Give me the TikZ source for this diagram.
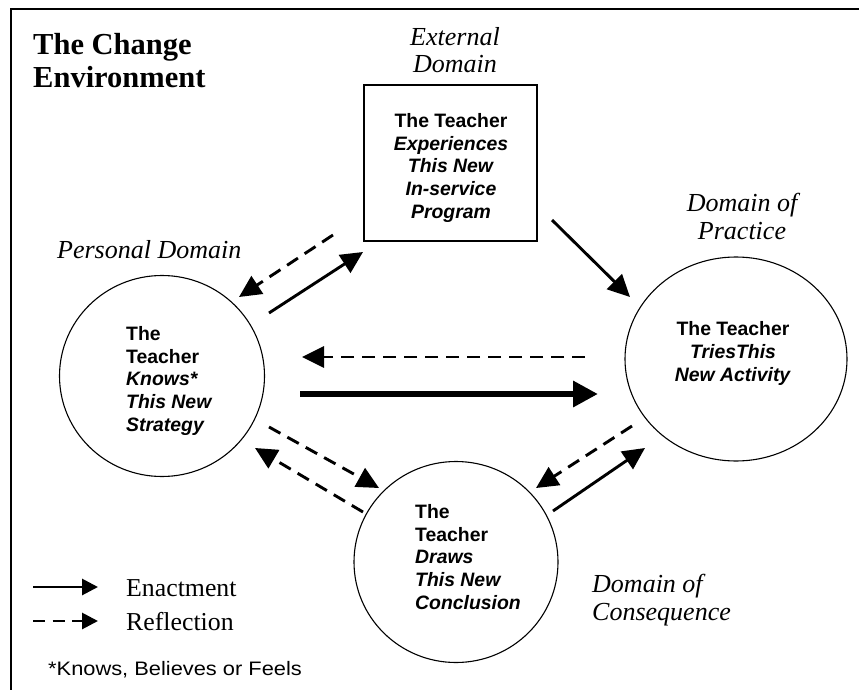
\documentclass[tikz,border=0pt]{standalone}
\usepackage{graphicx}
\usepackage{fontspec}
\setmainfont{Liberation Serif}
\setsansfont{Liberation Sans}
\usetikzlibrary{arrows.meta,shapes.geometric}
\begin{document}
\begin{tikzpicture}[x=1pt,y=-1pt,
  domainshape/.style={draw, line width=1.1pt, ellipse, inner sep=0pt},
  boxnode/.style={draw, line width=1.3pt, rectangle, inner sep=0pt},
  innertext/.style={font=\sffamily\bfseries\fontsize{19.4}{22.6}\selectfont, inner sep=0pt},
  dlabel/.style={font=\itshape\fontsize{26}{27.5}\selectfont, inner sep=0pt},
  enact/.style={line width=2.9pt, -{Triangle[length=22pt,width=21pt]}},
  reflect/.style={enact, dash pattern=on 13pt off 8pt},
  strongarrow/.style={line width=6.5pt, -{Triangle[length=25pt,width=25pt]}},
  legendtext/.style={font=\fontsize{25.8}{28}\selectfont, inner sep=0pt, anchor=base west}
]
\useasboundingbox (0,0) rectangle (859,690);
\fill[white] (0,0) rectangle (859,690);
% frame along the left and top edges
\draw[line width=2.4pt] (11,690) -- (11,9) -- (859,9);

% title (multi-line nodes are placed by the baseline of their last line)
\node[anchor=base west, inner sep=0pt, align=left,
      font=\bfseries\fontsize{30.5}{33}\selectfont] (title) at (33,88) {The Change\\Environment};

% the four domains
\node[domainshape, minimum width=205pt, minimum height=201pt] (pers) at (162,376) {};
\node[domainshape, minimum width=222pt, minimum height=204pt] (prac) at (736,359) {};
\node[domainshape, minimum width=204pt, minimum height=201pt] (cons) at (456,562) {};
\node[boxnode, minimum width=173pt, minimum height=156pt] (ext) at (450.5,163) {};

% texts inside the domains
\node[innertext, anchor=base, align=center] (exttext) at (451,218)
  {The Teacher\\\textit{Experiences}\\\textit{This New}\\\textit{In-service}\\\textit{Program}};
\node[innertext, anchor=base west, align=left] (perstext) at (126,431)
  {The\\Teacher\\\textit{Knows*}\\\textit{This New}\\\textit{Strategy}};
\node[innertext, anchor=base, align=center] (practext) at (733,381)
  {The Teacher\\\textit{TriesThis}\\\textit{New Activity}};
\node[innertext, anchor=base west, align=left] (constext) at (415,609)
  {The\\Teacher\\\textit{Draws}\\\textit{This New}\\\textit{Conclusion}};

% domain labels
\node[dlabel, anchor=base, align=center] (extlabel) at (455,73) {External\\Domain};
\node[dlabel, anchor=base west] (perslabel) at (57,258) {Personal Domain};
\node[dlabel, anchor=base, align=center] (praclabel) at (742,239) {Domain of\\Practice};
\node[dlabel, anchor=base west, align=left] (conslabel) at (592,620) {Domain of\\Consequence};

% connector end points
\coordinate (ep1) at (333,235);  \coordinate (pe1) at (239,297);
\coordinate (pe2) at (269,313);  \coordinate (ep2) at (363,252);
\coordinate (ex1) at (552,220);  \coordinate (pr1) at (630,297);
\coordinate (pr2) at (585,357);  \coordinate (pe3) at (302,357);
\coordinate (pe4) at (300,394);  \coordinate (pr4) at (598,394);
\coordinate (pe5) at (269,427);  \coordinate (co5) at (379,488);
\coordinate (co6) at (363,512);  \coordinate (pe6) at (255,448);
\coordinate (pr7) at (632,426);  \coordinate (co7) at (536,488);
\coordinate (co8) at (553,511);  \coordinate (pr8) at (645,448);

% connectors
\draw[reflect] (ep1) -- (pe1);
\draw[enact]   (pe2) -- (ep2);
\draw[enact]   (ex1) -- (pr1);
\draw[reflect] (pr2) -- (pe3);
\draw[strongarrow] (pe4) -- (pr4);
\draw[reflect] (pe5) -- (co5);
\draw[reflect] (co6) -- (pe6);
\draw[reflect] (pr7) -- (co7);
\draw[enact]   (co8) -- (pr8);

% legend
\coordinate (lgA) at (33,587); \coordinate (lgB) at (98,587);
\coordinate (lgC) at (33,621); \coordinate (lgD) at (98,621);
\draw[enact, -{Triangle[length=16pt,width=16pt]}] (lgA) -- (lgB);
\draw[reflect, dash pattern=on 12pt off 7.5pt, -{Triangle[length=16pt,width=16pt]}] (lgC) -- (lgD);
\node[legendtext] (enlbl) at (126,596) {Enactment};
\node[legendtext] (relbl) at (126,630) {Reflection};

% footnote
\node[anchor=base west, inner sep=0pt, font=\sffamily\fontsize{19.5}{22}\selectfont] (note) at (48,675)
  {\scalebox{1.12}[1]{*Knows, Believes or Feels}};
\end{tikzpicture}
\end{document}
